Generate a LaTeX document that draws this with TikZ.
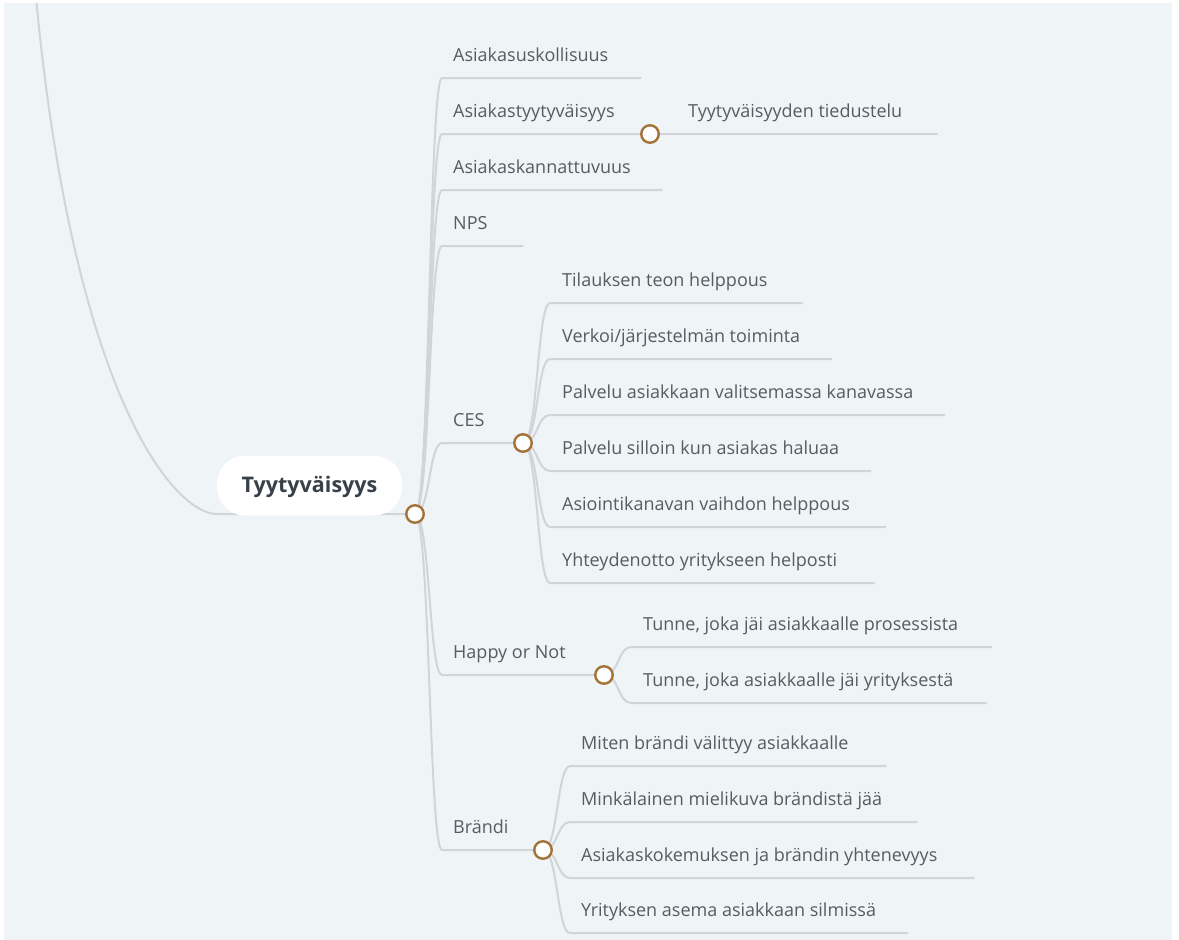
\documentclass[tikz,border=0pt]{standalone}
\usepackage{fontspec}
\setmainfont{Open Sans}
\usetikzlibrary{positioning}

\definecolor{paper}{HTML}{EFF4F7}
\definecolor{branchgray}{HTML}{D1D5D9}
\definecolor{knobbrown}{HTML}{A5733A}
\definecolor{ink}{HTML}{575C62}
\definecolor{rootink}{HTML}{38404A}

\tikzset{
  branch/.style={draw=branchgray, line width=2pt},
  knob/.style={circle, draw=knobbrown, fill=white, line width=2.4pt, inner sep=0pt, minimum size=17.5pt},
  topic/.style={anchor=base west, inner sep=0pt, text=ink, font=\fontsize{18}{21}\selectfont},
  rootbox/.style={fill=white, rounded corners=28pt, minimum width=185pt, minimum height=60pt,
    text=rootink, font=\fontsize{21.5}{24}\selectfont\bfseries, text height=16pt, text depth=2pt},
}

\begin{document}
\begin{tikzpicture}[x=1pt,y=-1pt]
\useasboundingbox (0,0) rectangle (1179,940);
\fill[white] (0,0) rectangle (1179,940);
\fill[paper] (4,3) rectangle (1172,940);

% knob positions
\coordinate (rk) at (415,514);
\coordinate (ak) at (650,134);
\coordinate (ck) at (523,443);
\coordinate (hk) at (604,675);
\coordinate (bk) at (543,850);

% branch coming in from above
\coordinate (up) at (36.5,3);
\coordinate (r0) at (217,514);
\draw[branch] (up) .. controls (75,400) and (175,514) .. (r0) -- (rk);

% first level
\foreach \y/\e/\t [count=\i] in {78/641/Asiakasuskollisuus, 134/650/Asiakastyytyväisyys,
    190/662/Asiakaskannattuvuus, 246/523/NPS, 443/523/CES, 675/604/Happy or Not, 850/543/Brändi}{
  \coordinate (r\i) at (442,\y);
  \draw[branch] (rk) .. controls +(15,0) and +(-13,0) .. (r\i) -- (\e,\y);
  \node[topic] (rt\i) at (453,\y-17) {\t};
}

% Asiakastyytyvaisyys
\coordinate (a1) at (938,134);
\draw[branch] (ak) -- (a1);
\node[topic] (at1) at (688,117) {Tyytyväisyyden tiedustelu};

% CES
\foreach \y/\e/\t [count=\i] in {303/803/Tilauksen teon helppous, 359/832/{Verkoi/järjestelmän toiminta},
    415/945/Palvelu asiakkaan valitsemassa kanavassa, 471/871/Palvelu silloin kun asiakas haluaa,
    527/886/Asiointikanavan vaihdon helppous, 583/875/Yhteydenotto yritykseen helposti}{
  \coordinate (c\i) at (550,\y);
  \draw[branch] (ck) .. controls +(15,0) and +(-13,0) .. (c\i) -- (\e,\y);
  \node[topic] (ct\i) at (562,\y-17) {\t};
}

% Happy or Not
\foreach \y/\e/\t [count=\i] in {647/992/{Tunne, joka jäi asiakkaalle prosessista},
    703/987/{Tunne, joka asiakkaalle jäi yrityksestä}}{
  \coordinate (h\i) at (631,\y);
  \draw[branch] (hk) .. controls +(15,0) and +(-13,0) .. (h\i) -- (\e,\y);
  \node[topic] (ht\i) at (643,\y-17) {\t};
}

% Brandi
\foreach \y/\e/\t [count=\i] in {766/886/Miten brändi välittyy asiakkaalle, 822/917/Minkälainen mielikuva brändistä jää,
    878/974/Asiakaskokemuksen ja brändin yhtenevyys, 933/908/Yrityksen asema asiakkaan silmissä}{
  \coordinate (b\i) at (570,\y);
  \draw[branch] (bk) .. controls +(15,0) and +(-13,0) .. (b\i) -- (\e,\y);
  \node[topic] (bt\i) at (581,\y-17) {\t};
}

% root and knobs on top
\node[rootbox] (root) at (309.5,485.5) {Tyytyväisyys};
\foreach \k in {rk,ak,ck,hk,bk} \node[knob] (\k n) at (\k) {};

\end{tikzpicture}
\end{document}
